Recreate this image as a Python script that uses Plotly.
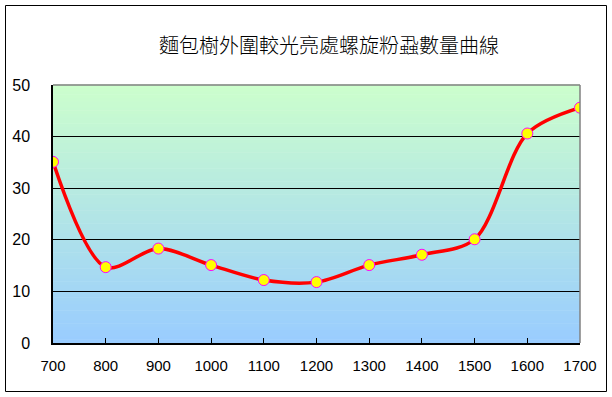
import plotly.graph_objects as go

title_text = "麵包樹外圍較光亮處螺旋粉蝨數量曲線"
x_vals = [700, 800, 900, 1000, 1100, 1200, 1300, 1400, 1500, 1600, 1700]
y_vals = [35.1, 14.7, 18.3, 15.1, 12.2, 11.8, 15.1, 17.1, 20.1, 40.6, 45.6]
x_ticks = list(range(700, 1701, 100))
y_ticks = [0, 10, 20, 30, 40, 50]

W, H = 612, 397
L, R, T, B = 53, 580, 85, 343
pw, ph = R - L, B - T

fig = go.Figure()
fig.add_trace(go.Scatter(
    x=x_vals, y=y_vals, mode="lines+markers",
    line=dict(color="#ff0000", width=3.5, shape="spline", smoothing=0.9),
    marker=dict(color="#ffff00", size=11, line=dict(color="#ff00ff", width=1)),
    showlegend=False, hoverinfo="x+y",
))

shapes = []
# gradient background bands
n = 80
top = (204, 255, 204)
bot = (153, 204, 255)
for i in range(n):
    t = (i + 0.5) / n
    c = tuple(round(bot[k] + (top[k] - bot[k]) * t) for k in range(3))
    shapes.append(dict(type="rect", xref="x domain", yref="y domain",
                       x0=0, x1=1, y0=i / n, y1=(i + 1) / n + 0.002,
                       fillcolor="rgb(%d,%d,%d)" % c, line=dict(width=0),
                       layer="below"))
# top and right gray borders of plot area
shapes.append(dict(type="line", xref="x domain", yref="y domain", x0=0, x1=1, y0=1, y1=1,
                   line=dict(color="#808080", width=1.5)))
shapes.append(dict(type="line", xref="x domain", yref="y domain", x0=1, x1=1, y0=0, y1=1,
                   line=dict(color="#808080", width=1.5)))
# outer chart border
shapes.append(dict(type="rect", xref="paper", yref="paper",
                   x0=(5.5 - L) / pw, x1=(606.5 - L) / pw,
                   y0=(B - 391.5) / ph, y1=(B - 5.5) / ph,
                   line=dict(color="black", width=1), fillcolor="rgba(0,0,0,0)"))

fig.update_layout(
    width=W, height=H,
    margin=dict(l=L, r=W - R, t=T, b=H - B, pad=0),
    paper_bgcolor="white", plot_bgcolor="rgba(0,0,0,0)",
    title=dict(text=title_text, x=329 / W, xanchor="center", y=1 - 46 / H, yanchor="middle",
               font=dict(family="Noto Sans CJK TC", size=20, color="black", weight=300)),
    shapes=shapes,
    font=dict(family="Liberation Sans", size=16, color="black"),
)
fig.update_xaxes(
    range=[700, 1700], tickvals=x_ticks, ticktext=[str(v) for v in x_ticks],
    ticks="inside", ticklen=5, tickcolor="black", tickwidth=1,
    showline=True, linecolor="black", linewidth=1.5, showgrid=False, zeroline=False,
    ticklabelstandoff=8, tickfont=dict(size=15),
)
fig.update_yaxes(
    range=[0, 50], tickvals=y_ticks, ticktext=[str(v) for v in y_ticks],
    ticks="inside", ticklen=5, tickcolor="black", tickwidth=1,
    showline=True, linecolor="black", linewidth=1.5,
    showgrid=True, gridcolor="black", gridwidth=1.2, zeroline=False,
    ticklabelstandoff=18,
)
fig.write_html("out.html", config={"displayModeBar": False},
               post_script="document.body.style.margin='0';document.body.style.overflow='hidden';")
